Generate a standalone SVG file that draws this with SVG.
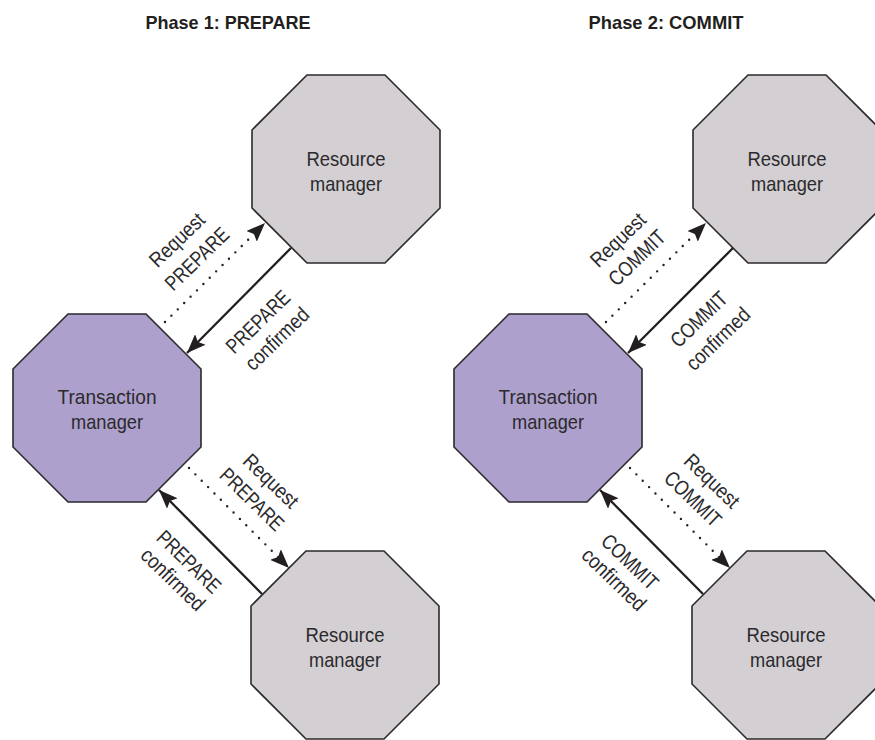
<svg xmlns="http://www.w3.org/2000/svg" width="875" height="740" viewBox="0 0 875 740">
<defs>
<polygon id="oct" points="-94,-39 -39,-94 39,-94 94,-39 94,39 39,94 -39,94 -94,39"/>
<marker id="ah" viewBox="0 0 19 15" refX="19" refY="7.5" markerWidth="19" markerHeight="15" markerUnits="userSpaceOnUse" orient="auto"><path d="M0,0 L19,7.5 L0,15 L3.5,7.5 Z" fill="#231f20"/></marker>
</defs>
<style>
text{font-family:"Liberation Sans",Arial,sans-serif;font-size:21px;fill:#2b2a2c;text-anchor:middle}
.title{font-weight:bold;font-size:18.5px;fill:#231f20}
.rm use{fill:#d3cfd3;stroke:#2b2a2c;stroke-width:1.6}
.tm use{fill:#aea0cc;stroke:#2b2a2c;stroke-width:1.6}
.solid{stroke:#231f20;stroke-width:2.3;fill:none;marker-end:url(#ah)}
.dot{stroke:#231f20;stroke-width:2.4;fill:none;stroke-linecap:round;stroke-dasharray:0 9;marker-end:url(#ah)}
</style>
<rect width="875" height="740" fill="#fff"/>
<text class="title" x="228" y="28.5" textLength="165" lengthAdjust="spacingAndGlyphs">Phase 1: PREPARE</text>
<text class="title" x="666" y="28.5" textLength="155" lengthAdjust="spacingAndGlyphs">Phase 2: COMMIT</text>

<g id="rm1a" class="rm"><use href="#oct" x="346" y="169"/><text x="346" y="165.5" textLength="79" lengthAdjust="spacingAndGlyphs">Resource</text><text x="346" y="190.5" textLength="72" lengthAdjust="spacingAndGlyphs">manager</text></g>
<g id="tm1" class="tm"><use href="#oct" x="107" y="408"/><text x="107" y="403.5" textLength="99" lengthAdjust="spacingAndGlyphs">Transaction</text><text x="107" y="428.5" textLength="72" lengthAdjust="spacingAndGlyphs">manager</text></g>
<g id="rm1b" class="rm"><use href="#oct" x="345" y="645"/><text x="345" y="641.5" textLength="79" lengthAdjust="spacingAndGlyphs">Resource</text><text x="345" y="666.5" textLength="72" lengthAdjust="spacingAndGlyphs">manager</text></g>
<g id="rm2a" class="rm"><use href="#oct" x="787" y="169"/><text x="787" y="165.5" textLength="79" lengthAdjust="spacingAndGlyphs">Resource</text><text x="787" y="190.5" textLength="72" lengthAdjust="spacingAndGlyphs">manager</text></g>
<g id="tm2" class="tm"><use href="#oct" x="548" y="408"/><text x="548" y="403.5" textLength="99" lengthAdjust="spacingAndGlyphs">Transaction</text><text x="548" y="428.5" textLength="72" lengthAdjust="spacingAndGlyphs">manager</text></g>
<g id="rm2b" class="rm"><use href="#oct" x="786" y="645"/><text x="786" y="641.5" textLength="79" lengthAdjust="spacingAndGlyphs">Resource</text><text x="786" y="666.5" textLength="72" lengthAdjust="spacingAndGlyphs">manager</text></g>

<g id="connectors">
<path class="dot" d="M165,322 L265,223"/>
<path class="solid" d="M291,248 L187,353"/>
<path class="dot" d="M189,468 L289,568"/>
<path class="solid" d="M262,594 L159,490"/>
<path class="dot" d="M606,322 L706,223"/>
<path class="solid" d="M733,248 L628,353"/>
<path class="dot" d="M630,468 L730,568"/>
<path class="solid" d="M703,594 L600,490"/>
</g>

<g id="labels">
<text transform="translate(182,245) rotate(-44)" textLength="68" lengthAdjust="spacingAndGlyphs">Request</text>
<text transform="translate(202,264) rotate(-44)" textLength="80" lengthAdjust="spacingAndGlyphs">PREPARE</text>
<text transform="translate(263,327) rotate(-44)" textLength="80" lengthAdjust="spacingAndGlyphs">PREPARE</text>
<text transform="translate(282,344) rotate(-44)" textLength="80" lengthAdjust="spacingAndGlyphs">confirmed</text>
<text transform="translate(266,486) rotate(44)" textLength="68" lengthAdjust="spacingAndGlyphs">Request</text>
<text transform="translate(247,504.5) rotate(44)" textLength="80" lengthAdjust="spacingAndGlyphs">PREPARE</text>
<text transform="translate(184,567) rotate(44)" textLength="80" lengthAdjust="spacingAndGlyphs">PREPARE</text>
<text transform="translate(168,584.5) rotate(44)" textLength="80" lengthAdjust="spacingAndGlyphs">confirmed</text>
<text transform="translate(623,245) rotate(-44)" textLength="68" lengthAdjust="spacingAndGlyphs">Request</text>
<text transform="translate(642,263) rotate(-44)" textLength="70" lengthAdjust="spacingAndGlyphs">COMMIT</text>
<text transform="translate(704,324.5) rotate(-44)" textLength="70" lengthAdjust="spacingAndGlyphs">COMMIT</text>
<text transform="translate(723,344) rotate(-44)" textLength="80" lengthAdjust="spacingAndGlyphs">confirmed</text>
<text transform="translate(707,486) rotate(44)" textLength="68" lengthAdjust="spacingAndGlyphs">Request</text>
<text transform="translate(688,504) rotate(44)" textLength="70" lengthAdjust="spacingAndGlyphs">COMMIT</text>
<text transform="translate(625,567) rotate(44)" textLength="70" lengthAdjust="spacingAndGlyphs">COMMIT</text>
<text transform="translate(609,584.5) rotate(44)" textLength="80" lengthAdjust="spacingAndGlyphs">confirmed</text>
</g>
</svg>
